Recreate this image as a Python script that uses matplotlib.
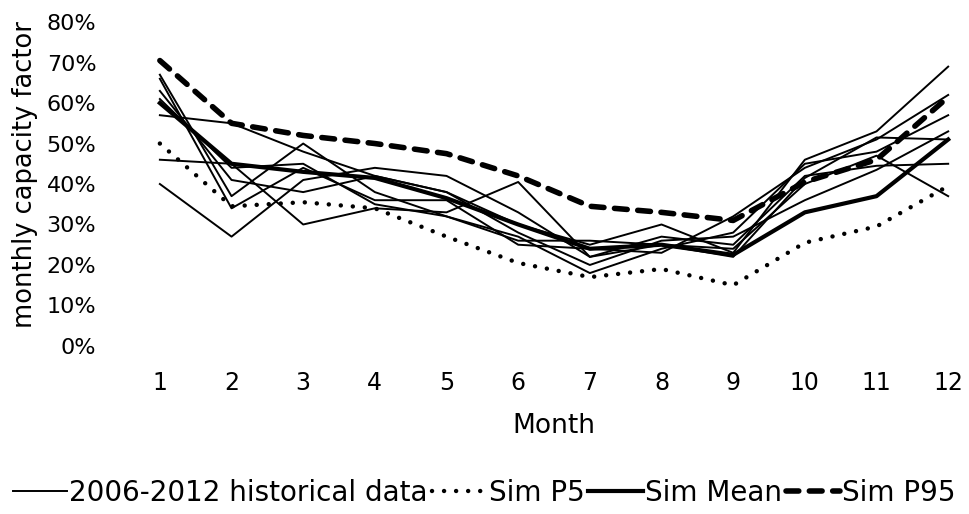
import matplotlib.pyplot as plt
from matplotlib.ticker import PercentFormatter

plt.rcParams['font.family'] = ['DejaVu Sans']

months = list(range(1, 13))

# 2006-2012 historical monthly capacity factors (%)
hist_2006 = [40, 27, 41, 44, 42, 33, 22, 25, 24, 40, 47, 37]
hist_2007 = [46, 45, 30, 34, 33, 40.5, 22, 27, 25, 42, 44.5, 45]
hist_2008 = [57, 55, 48, 42, 38, 30, 25, 30, 23, 46, 53, 69]
hist_2009 = [67, 37, 50, 38, 32, 27, 18, 24, 28, 45, 48, 57]
hist_2010 = [66, 34, 44, 36, 36, 25, 24, 23, 32, 44, 51, 62]
hist_2011 = [63, 41, 38, 42, 38, 28, 20, 26, 27, 36, 43.5, 53]
hist_2012 = [61, 44, 45, 35, 32, 26, 26, 25, 22, 41.5, 51.5, 51]
historical = [hist_2006, hist_2007, hist_2008, hist_2009, hist_2010, hist_2011, hist_2012]

sim_p5 = [50, 34.5, 35.5, 34, 27, 20.5, 17, 19, 15, 25.5, 29.5, 39.5]
sim_mean = [60, 45, 43, 41.5, 36.5, 30, 24, 25, 22.5, 33, 37, 51]
sim_p95 = [70.5, 55, 52, 50, 47.5, 42, 34.5, 33, 31, 40.5, 46, 61.5]

fig = plt.figure(figsize=(9.69, 5.14), dpi=100)
ax = fig.add_axes([0.128, 0.327, 0.8875, 0.630])

for i, h in enumerate(historical):
    ax.plot(months, h, color='black', lw=1.4,
            label='2006-2012 historical data' if i == 0 else None)
ax.plot(months, sim_p5, color='black', lw=3.2, linestyle=(0, (0.01, 2.7)),
        dash_capstyle='round', label='Sim P5')
ax.plot(months, sim_mean, color='black', lw=3.0, label='Sim Mean')
ax.plot(months, sim_p95, color='black', lw=4.0, linestyle=(0, (2.3, 1.9)),
        dash_capstyle='round', label='Sim P95')

ax.set_xlim(0.5, 12.5)
ax.set_ylim(0, 80)
ax.set_xticks(months)
ax.set_yticks(range(0, 81, 10))
ax.yaxis.set_major_formatter(PercentFormatter(decimals=0))
ax.tick_params(length=0, colors='black')
ax.tick_params(axis='y', pad=20, labelsize=16)
ax.tick_params(axis='x', pad=18, labelsize=17)
for s in ax.spines.values():
    s.set_visible(False)

ax.set_xlabel('Month', fontsize=19, labelpad=13)
ax.set_ylabel('monthly capacity factor', fontsize=18.5, labelpad=5)
ax.yaxis.set_label_coords(-0.100, 0.53)

leg = fig.legend(loc='center', bbox_to_anchor=(0.5, 0.041), ncol=4,
                 frameon=False, fontsize=20, handlelength=1.95,
                 handletextpad=0.08, columnspacing=0.15)

fig.savefig('out.png', dpi=100)
